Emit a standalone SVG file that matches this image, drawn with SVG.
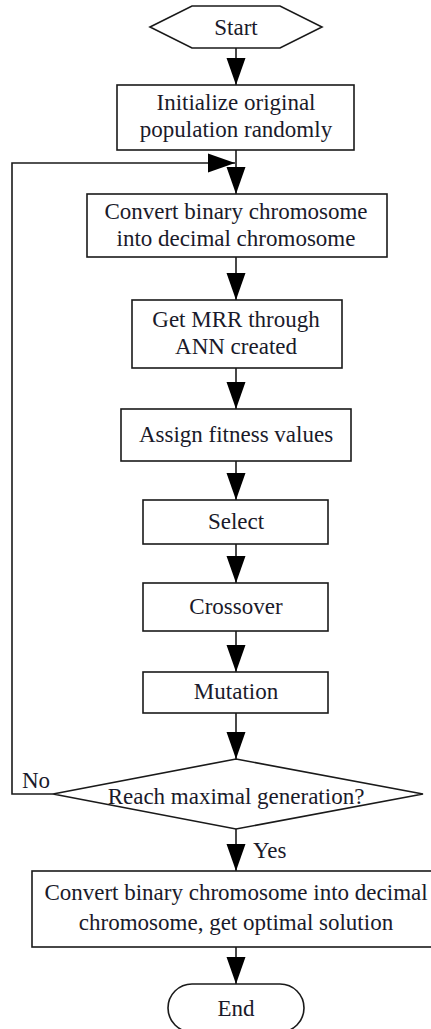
<svg xmlns="http://www.w3.org/2000/svg" width="431" height="1029" viewBox="0 0 431 1029">
<defs>
<style>
.n{fill:#fff;stroke:#1a1a1a;stroke-width:1.6}
.t{font-family:"Liberation Serif","Times New Roman",serif;font-size:23px;fill:#1a1a2a;text-anchor:middle}
.l{font-family:"Liberation Serif","Times New Roman",serif;font-size:23px;fill:#1a1a2a}
.c{fill:none;stroke:#1a1a1a;stroke-width:1.6}
</style>
<marker id="ah" markerUnits="userSpaceOnUse" markerWidth="28" markerHeight="20" viewBox="0 0 28 20" refX="27" refY="10" orient="auto">
<path d="M0,0.5 L27,10 L0,19.5 z" fill="#000"/>
</marker>
</defs>
<g id="connectors">
<line class="c" x1="236" y1="48" x2="236" y2="85" marker-end="url(#ah)"/>
<line class="c" x1="236" y1="150" x2="236" y2="194" marker-end="url(#ah)"/>
<line class="c" x1="236" y1="257" x2="236" y2="300" marker-end="url(#ah)"/>
<line class="c" x1="236" y1="368" x2="236" y2="409" marker-end="url(#ah)"/>
<line class="c" x1="236" y1="461" x2="236" y2="500" marker-end="url(#ah)"/>
<line class="c" x1="236" y1="544" x2="236" y2="583" marker-end="url(#ah)"/>
<line class="c" x1="236" y1="631" x2="236" y2="672" marker-end="url(#ah)"/>
<line class="c" x1="236" y1="713" x2="236" y2="759" marker-end="url(#ah)"/>
<line class="c" x1="236" y1="829" x2="236" y2="871" marker-end="url(#ah)"/>
<line class="c" x1="236" y1="947" x2="236" y2="984" marker-end="url(#ah)"/>
<polyline class="c" points="53,794 12,794 12,163 235,163" marker-end="url(#ah)"/>
<text class="l" x="22" y="788">No</text>
<text class="l" x="253" y="858">Yes</text>
</g>
<g id="start">
<polygon class="n" points="150,27 192,6 280,6 322,27 280,48 192,48"/>
<text class="t" x="236" y="35">Start</text>
</g>
<g id="init">
<rect class="n" x="117" y="85" width="237" height="65"/>
<text class="t" x="236" y="110">Initialize original</text>
<text class="t" x="236" y="137">population randomly</text>
</g>
<g id="convert">
<rect class="n" x="87" y="194" width="300" height="63"/>
<text class="t" x="236" y="219">Convert binary chromosome</text>
<text class="t" x="236" y="246">into decimal chromosome</text>
</g>
<g id="mrr">
<rect class="n" x="132" y="300" width="210" height="68"/>
<text class="t" x="236" y="327">Get MRR through</text>
<text class="t" x="236" y="354">ANN created</text>
</g>
<g id="fitness">
<rect class="n" x="121" y="409" width="230" height="52"/>
<text class="t" x="236" y="442">Assign fitness values</text>
</g>
<g id="select">
<rect class="n" x="143" y="500" width="185" height="44"/>
<text class="t" x="236" y="529">Select</text>
</g>
<g id="crossover">
<rect class="n" x="143" y="583" width="185" height="48"/>
<text class="t" x="236" y="614">Crossover</text>
</g>
<g id="mutation">
<rect class="n" x="143" y="672" width="185" height="41"/>
<text class="t" x="236" y="699">Mutation</text>
</g>
<g id="decision">
<polygon class="n" points="236,759 423,794 236,829 53,794"/>
<text class="t" x="236" y="804">Reach maximal generation?</text>
</g>
<g id="final">
<rect class="n" x="32" y="871" width="402" height="76"/>
<text class="t" x="236" y="900">Convert binary chromosome into decimal</text>
<text class="t" x="236" y="930">chromosome, get optimal solution</text>
</g>
<g id="end">
<rect class="n" x="168" y="984" width="136" height="48" rx="24" ry="24"/>
<text class="t" x="236" y="1016">End</text>
</g>
</svg>
